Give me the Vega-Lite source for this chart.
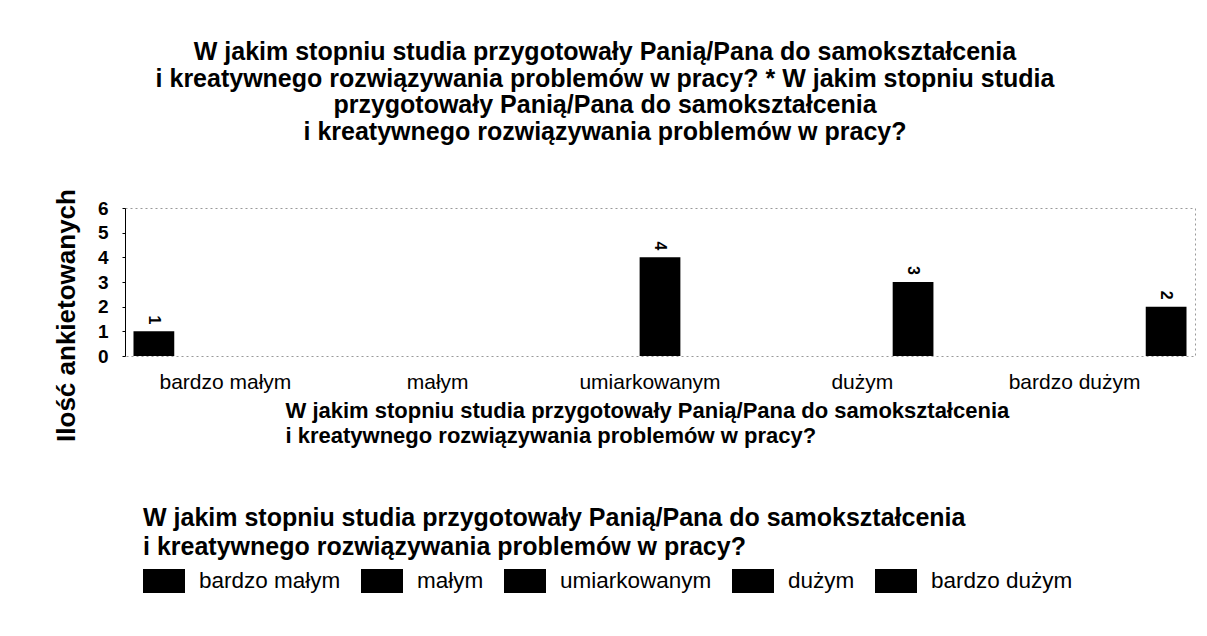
{
  "$schema": "https://vega.github.io/schema/vega-lite/v6.json",
  "autosize": "none",
  "width": 1070,
  "height": 148,
  "padding": {"left": 125, "top": 208, "right": 12, "bottom": 280},
  "background": "white",
  "config": {
    "font": "Liberation Sans",
    "view": {"stroke": "#999999", "strokeDash": [2, 3], "strokeWidth": 1}
  },
  "title": {
    "text": [
      "W jakim stopniu studia przygotowały Panią/Pana do samokształcenia",
      "i kreatywnego rozwiązywania problemów w pracy? * W jakim stopniu studia",
      "przygotowały Panią/Pana do samokształcenia",
      "i kreatywnego rozwiązywania problemów w pracy?"
    ],
    "font": "Liberation Sans",
    "fontSize": 25,
    "fontWeight": "bold",
    "lineHeight": 26.5,
    "anchor": "middle",
    "dx": -55,
    "offset": 44,
    "limit": 2000,
    "color": "#000000"
  },
  "data": {
    "values": [
      {"kategoria": "bardzo małym", "n": 1},
      {"kategoria": "małym", "n": 0},
      {"kategoria": "umiarkowanym", "n": 4},
      {"kategoria": "dużym", "n": 3},
      {"kategoria": "bardzo dużym", "n": 2}
    ]
  },
  "encoding": {
    "x": {
      "field": "kategoria",
      "type": "nominal",
      "sort": ["bardzo małym", "małym", "umiarkowanym", "dużym", "bardzo dużym"],
      "scale": {"paddingInner": 0.04, "paddingOuter": 0.04},
      "axis": {
        "title": [
          "W jakim stopniu studia przygotowały Panią/Pana do samokształcenia",
          "i kreatywnego rozwiązywania problemów w pracy?"
        ],
        "titleFont": "Liberation Sans",
        "titleFontSize": 22,
        "titleFontWeight": "bold",
        "titleLineHeight": 25,
        "titleAlign": "left",
        "titleAnchor": "start",
        "titleBaseline": "top",
        "titleX": 160,
        "titleY": 44,
        "titleLimit": 2000,
        "titleColor": "#000000",
        "labelAngle": 0,
        "labelFontSize": 21,
        "labelColor": "#000000",
        "labelPadding": 15,
        "labelOffset": -10,
        "ticks": false,
        "domain": false
      }
    },
    "xOffset": {
      "field": "kategoria",
      "type": "nominal",
      "scale": {"domain": ["bardzo małym", "małym", "umiarkowanym", "dużym", "bardzo dużym"], "padding": 0}
    },
    "y": {
      "field": "n",
      "type": "quantitative",
      "scale": {"domain": [0, 6]},
      "axis": {
        "title": "Ilość ankietowanych",
        "titleFont": "Liberation Sans",
        "titleFontSize": 26,
        "titleFontWeight": "bold",
        "titleColor": "#000000",
        "titlePadding": 18,
        "titleY": 107,
        "values": [0, 1, 2, 3, 4, 5, 6],
        "labelFontSize": 19,
        "labelFontWeight": "bold",
        "labelColor": "#000000",
        "labelPadding": 14,
        "tickSize": 3,
        "tickColor": "#000000",
        "domainColor": "#000000",
        "grid": false
      }
    }
  },
  "layer": [
    {
      "mark": {"type": "bar"},
      "encoding": {
        "color": {
          "field": "kategoria",
          "type": "nominal",
          "scale": {
            "domain": ["bardzo małym", "małym", "umiarkowanym", "dużym", "bardzo dużym"],
            "range": ["#000000", "#000000", "#000000", "#000000", "#000000"]
          },
          "legend": {
            "title": [
              "W jakim stopniu studia przygotowały Panią/Pana do samokształcenia",
              "i kreatywnego rozwiązywania problemów w pracy?"
            ],
            "orient": "none",
            "legendX": 18,
            "legendY": 298,
            "direction": "horizontal",
            "columns": 5,
            "titleFont": "Liberation Sans",
            "titleFontSize": 25,
            "titleFontWeight": "bold",
            "titleLineHeight": 29,
            "titleColor": "#000000",
            "titleAnchor": "start",
            "titleAlign": "left",
            "titleLimit": 2000,
            "titlePadding": 0,
            "labelFont": "Liberation Sans",
            "labelFontSize": 22.5,
            "labelColor": "#000000",
            "labelOffset": 14,
            "labelLimit": 400,
            "columnPadding": 20,
            "symbolType": "M-1,-0.57H1V0.57H-1Z",
            "symbolSize": 1764,
            "symbolStrokeWidth": 0,
            "symbolOpacity": 1
          }
        }
      }
    },
    {
      "transform": [{"filter": "datum.n > 0"}],
      "mark": {
        "type": "text",
        "angle": 90,
        "align": "right",
        "baseline": "middle",
        "dx": -7,
        "fontSize": 16,
        "fontWeight": "bold",
        "color": "#000000",
        "font": "Liberation Sans"
      },
      "encoding": {
        "text": {"field": "n", "type": "quantitative"}
      }
    }
  ]
}
